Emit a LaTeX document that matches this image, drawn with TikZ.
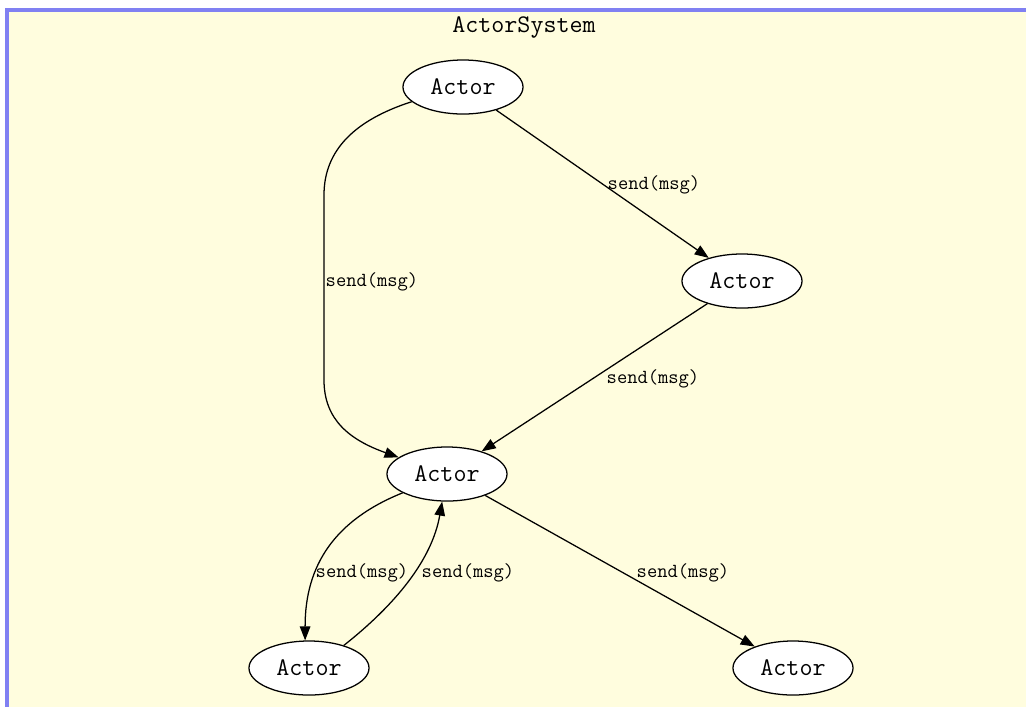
\documentclass[tikz,border=0pt]{standalone}
\usepackage{fontspec}
\usepackage{tikz}
\usetikzlibrary{arrows.meta}
\usetikzlibrary{shapes.geometric, positioning, calc}
\usepackage{xcolor}
\definecolor{clusterbg}{HTML}{FFFDDE}
\definecolor{clusterline}{HTML}{8080F2}

\begin{document}
\begin{tikzpicture}[x=0.025cm, y=-0.025cm,
      actor/.style={ellipse, draw, fill=white, line width=0.9pt, inner sep=0pt,
        minimum width=3cm, minimum height=1.35cm, font=\ttfamily\fontsize{18}{20}\selectfont},
      msg/.style={font=\ttfamily\fontsize{14.2}{16}\selectfont, inner sep=0pt},
      send/.style={-{Triangle[length=10pt, width=7.5pt]}, line width=0.9pt}]
      \useasboundingbox (0, 0) rectangle (1026, 706);
      \fill[white] (0, 0) rectangle (1026, 706);
      \draw[clusterline, fill=clusterbg, line width=2.2pt] (1040, 720) -- (7, 720) -- (7, 10) -- (1040, 10);

      \node[font=\ttfamily\fontsize{18}{20}\selectfont] (title) at (524, 27) {ActorSystem};

      \node[actor] (a1) at (463, 87) {Actor};
      \node[actor] (a2) at (742, 281) {Actor};
      \node[actor] (a3) at (447, 474) {Actor};
      \node[actor] (a4) at (309, 668) {Actor};
      \node[actor] (a5) at (793, 668) {Actor};

      \draw[send] (a1) -- (a2);
      \draw[send] (a1.196) .. controls (355, 120) and (324, 150) .. (324, 195) -- (324, 380) .. controls (324, 420) and (350, 440) .. (a3.161);
      \draw[send] (a2) -- (a3);
      \draw[send] (a3.203) .. controls (335, 520) and (305, 565) .. (a4.98);
      \draw[send] (a4.33) .. controls (395, 605) and (432, 560) .. (a3.260);
      \draw[send] (a3) -- (a5);

      \node[msg] (m12) at (654, 185) {send(msg)};
      \node[msg] (m13) at (372, 282) {send(msg)};
      \node[msg] (m23) at (653, 379) {send(msg)};
      \node[msg] (m34) at (362, 573) {send(msg)};
      \node[msg] (m43) at (468, 573) {send(msg)};
      \node[msg] (m35) at (683, 573) {send(msg)};

    \end{tikzpicture}
\end{document}
